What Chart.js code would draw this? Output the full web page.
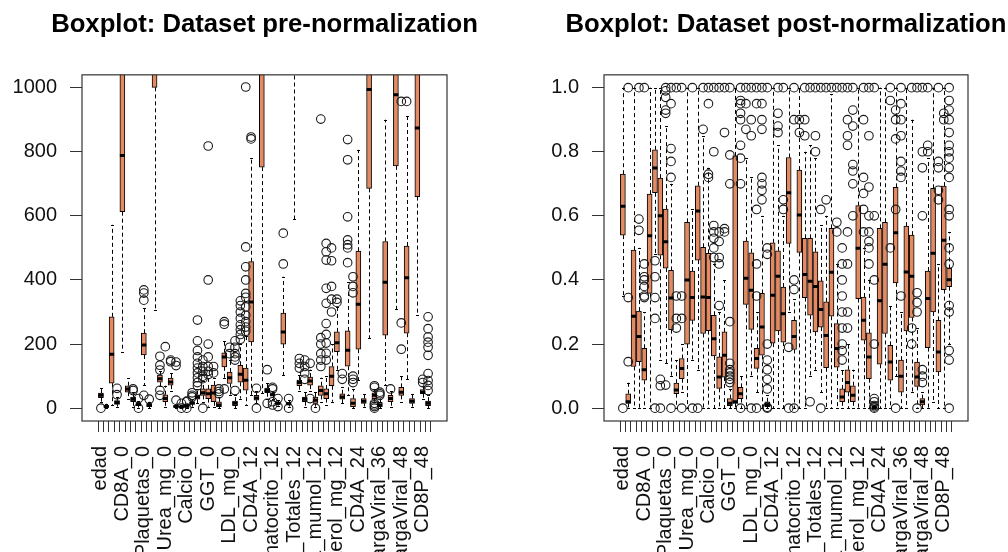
<!DOCTYPE html>
<html>
<head>
<meta charset="utf-8">
<script src="https://cdn.jsdelivr.net/npm/chart.js@4.4.1/dist/chart.umd.min.js"></script>
<style>
  html, body { margin: 0; padding: 0; background: #fff; overflow: hidden; }
  #wrap { position: relative; width: 1008px; height: 552px; }
  canvas { position: absolute; top: 0; }
  #pre { left: 0; }
  #post { left: 504px; }
</style>
</head>
<body>
<div id="wrap">
  <canvas id="pre" width="504" height="552"></canvas>
  <canvas id="post" width="504" height="552"></canvas>
</div>
<script>
// variable names (only every 4th one fits on the axis)
const varNames = [
  'edad', 'peso', 'CD4A_0', 'CD4P_0', 'CD8A_0', 'CD8P_0', 'Cociente_0', 'Hemoglobina_0',
  'Plaquetas_0', 'Leucocitos_0', 'Linfocitos_Totales_0', 'Glucosa_mg_0', 'Urea_mg_0',
  'Creatinina_mumol_0', 'Sodio_0', 'Potasio_0', 'Calcio_0', 'AST_0', 'ALT_0', 'FA_0',
  'GGT_0', 'Bilirrubina_0', 'Colesterol_mg_0', 'Trigliceridos_mg_0', 'LDL_mg_0', 'HDL_mg_0',
  'Albumina_0', 'CargaViral_0', 'CD4A_12', 'CD4P_12', 'CD8A_12', 'CD8P_12', 'Hematocrito_12',
  'Hemoglobina_12', 'Plaquetas_12', 'Leucocitos_12', 'Linfocitos_Totales_12', 'Glucosa_mg_12',
  'Urea_mg_12', 'Acido_urico_12', 'Creatinina_mumol_12', 'AST_12', 'ALT_12', 'GGT_12',
  'Colesterol_mg_12', 'HDL_mg_12', 'Trigliceridos_mg_12', 'CargaViral_12', 'CD4A_24', 'CD4P_24',
  'CD8A_24', 'CD8P_24', 'CargaViral_36', 'CD4A_36', 'CD4P_36', 'CD8A_36', 'CargaViral_48',
  'CD4A_48', 'CD4P_48', 'CD8A_48', 'CD8P_48', 'Cociente_48'
];

// pre-normalization boxplot stats
const preLow = [20,1,10,5,176,30,5,2,72,0, 306,68,5,55,0,0,0,5,15,20, 5,5,0,95,40,0,30,10,40,15,
  47,30,30,8,103,5,590,55,5,55, 5,20,10,20,120,15,40,0,87,5, 219,20,0,72,5,308,20,90,5,290, 30,0];
const preQ1 = [33,3,78,12,613,50,20,8,166,5, 1001,81,20,72,3,2,3,12,28,40, 30,20,5,129,77,8,81,56,207,25,
  752,48,38,12,200,10,1300,70,20,72, 15,40,30,70,176,28,131,5,184,15, 686,30,5,228,20,756,40,234,15,660, 45,8];
const preMedian = [40,5,168,18,788,60,28,12,197,10, 1300,92,30,82,5,4,6,16,35,48, 45,47,10,160,95,15,106,87,331,32,
  1100,55,42,15,238,14,1600,80,28,85, 25,55,45,100,204,35,181,15,324,22, 994,40,10,393,30,978,50,407,22,874, 50,15];
const preQ3 = [47,8,285,24,1150,70,35,16,234,14, 1600,103,42,94,8,6,9,20,42,60, 60,72,20,173,113,22,134,125,457,40,
  1400,63,45,18,297,18,1900,88,35,97, 35,70,60,130,238,45,241,30,490,30, 1300,48,18,520,40,1300,65,506,30,1200, 58,22];
const preHigh = [62,14,572,35,2000,94,50,22,312,20, 2500,115,70,110,14,10,14,28,60,85, 95,94,35,210,150,40,200,225,781,55,
  2500,80,52,24,410,25,2500,105,50,120, 50,95,100,200,317,65,394,60,806,45, 2000,60,30,900,55,2000,100,912,45,2000, 70,40];
const preOutliers = [
  [0], [], [], [42,62], [], [], [55,60], [0,30], [337,359,369,40], [28],
  [], [119,134,162,56,40], [192], [145,150], [133,144,25], [0,15], [0,20,22], [35,40,48],
  [275,210,180,160,140,125,110,95,80,70], [150,130,115,100,92,0],
  [818,400,200,160,130,115,105], [110,130], [45,52,60], [262,270,60], [170,190],
  [55,150,160,170,190,210], [215,230,245,260,280,300,320,335],
  [1002,503,441,400,358,346,316,290,270,253,240], [840,846], [0,62],
  [], [120,15], [60,65,20,10], [5,30], [450,546], [0,30], [], [125,140,155], [90,110,130,150], [140,30],
  [0], [902,130,150,170,200,220], [514,488,462,374,327,264,230,203,171,150], [300,340,380,460,500],
  [330,340], [108,90], [838,775,597,525,510,500,454], [80,90,100,360,380,410], [], [],
  [], [0,5,10,15,65,70], [40,45,50], [], [60], [], [957,266,184], [957], [], [],
  [80,90], [285,248,222,206,190,165,108,86,71,55]
];

// post-normalization boxplot stats
const postLow = [0.35,0,0,0,0,0,0.48,0.15,0.14,0.1, 0,0.05,0,0.15,0.12,0,0,0,0,0, 0,0,0,0,0.1,0.05,0,0,0,0,
  0,0.3,0,0,0,0.1,0.12,0.05,0,0, 0,0,0,0,0,0,0,0,0,0, 0,0.1,0,0,0.05,0,0,0,0.02,0, 0,0.2];
const postQ1 = [0.54,0.015,0.13,0.145,0.087,0.358,0.672,0.477,0.437,0.245, 0.045,0.092,0.2,0.274,0.462,0.233,0.242,0.163,0.062,0.097,
  0.008,0.015,0.03,0.324,0.246,0.124,0.165,0.005,0.203,0.241, 0.206,0.514,0.183,0.486,0.345,0.29,0.238,0.253,0.126,0.287,
  0.128,0.02,0.05,0.02,0.342,0.212,0.092,0,0.137,0.233, 0.087,0.391,0.05,0.241,0.283,0.068,0.01,0.189,0.3,0.113, 0.37,0.379];
const postMedian = [0.63,0.02,0.287,0.224,0.12,0.538,0.749,0.6,0.519,0.344, 0.057,0.124,0.4,0.345,0.615,0.347,0.345,0.217,0.097,0.165,
  0.015,0.02,0.045,0.405,0.368,0.155,0.253,0.01,0.352,0.412, 0.295,0.672,0.224,0.603,0.417,0.396,0.38,0.308,0.227,0.424,
  0.186,0.035,0.08,0.04,0.499,0.274,0.16,0.002,0.335,0.449, 0.144,0.547,0.1,0.425,0.412,0.097,0.02,0.342,0.483,0.175, 0.524,0.401];
const postQ3 = [0.73,0.045,0.493,0.303,0.187,0.668,0.806,0.718,0.621,0.43, 0.078,0.155,0.58,0.428,0.694,0.502,0.483,0.29,0.16,0.238,
  0.03,0.787,0.065,0.521,0.485,0.187,0.358,0.02,0.516,0.491, 0.378,0.782,0.274,0.743,0.53,0.53,0.488,0.397,0.332,0.561,
  0.264,0.06,0.12,0.07,0.632,0.347,0.235,0.005,0.561,0.58, 0.196,0.689,0.15,0.568,0.54,0.144,0.03,0.428,0.686,0.274, 0.693,0.436];
const postHigh = [1,0.08,1,0.5,0.3,1,1,1,0.88,0.7, 0.15,0.2,1,0.62,1,0.85,0.75,0.45,0.3,0.4, 0.06,1,0.1,0.78,0.72,0.3,0.6,0.04,1,0.82,
  0.6,1,0.34,1,0.8,0.82,0.78,0.57,0.6,0.98, 0.45,0.12,0.2,0.12,1,0.5,0.4,0.01,1,1, 0.32,1,0.3,1,0.9,0.25,0.05,0.78,1,0.45, 1,0.55];
const postOutliers = [
  [0], [0.145,0.345,1], [], [0.555,0.59,1], [0.345,0.35,0.38,0.4,0.41,0.45,1], [], [0.46,0.41,0.345,0.28,0],
  [0.09,0.07,0], [0.92,0.93,0.97,0.99,1,0.072], [0.72,0.77,0.81,0.95,1,0],
  [0.25,0.28,0.35,1], [0.28,0.35,1,0], [], [1,0], [0], [0.87,1], [0.72,0.73,0.95,1],
  [0.47,0.5,0.53,0.55,0.57,0.8,1], [0.32,0.45,0.47,0.52,0.55,1], [0.55,0.56,0.86,1],
  [0.08,0.09,0.1,0.11,0.12,0.14,0.27,0.7,0.79,1], [], [0.7,0.78,0.82,0.9,0.92,0.95,0.96,1,0],
  [0.87,0.95,1], [0.85,0.9,1,0], [0.35,0.45,0.62,0.95,1,0], [0.65,0.68,0.7,0.72,0.87,0.9,0.95,1],
  [0,0.003,0.06,0.09,0.12,0.15,0.2,0.48,0.5,1], [], [0.86,0.88,0.92,1],
  [0.62,0.65,1], [0.19,0], [0.37,0.4,0.9,1,0], [0.86,0.9], [0.85,0.9,1], [1,0.02], [0.8,0.85,1],
  [0.62,1,0], [0.65,1], [1],
  [0.55,0.58,1], [0.15,0.18,0.2,0.25,0.3,0.35,0.4,0.45,0.5,1], [0.25,0.3,0.45,0.55,0.82,0.85,0.9,1],
  [0.6,0.7,0.74,0.76,0.88,0.93,1], [], [0.55,0.62,0.67,0.72,0.9,1], [0.45,0.5,0.52,0.55,0.6,0.69,0.85,1],
  [0,0.004,0.008,0.02,0.03,0.2,0.4,0.6,1], [], [],
  [0.5,0.96,1], [0.62,0.84,0.9,0.93,0], [0.35,0.72,0.74,0.77,0.85,0.9,0.95,1], [], [0.2,0.25,1],
  [0.3,0.33,0.36,1,0], [0.08,0.1,0.12,0.6,0.75,0.8,1], [0.8,0.82,1], [], [0.65,0.68,0.75,0.77,1],
  [0.9,0.92], [0,0.15,0.18,0.3,0.32,0.45,0.5,0.6,0.62,0.72,0.75,0.78,0.8,0.82,0.86,0.9,0.93,0.96,1]
];

const FONT = "Arial, 'Liberation Sans', sans-serif";
const BOX_FILL = '#E48A63';
const BOX_W = 5;

// whiskers, staples, medians and the frame around the plot region
const boxParts = {
    id: 'boxParts',
    afterLayout(chart) {
        // centre the title over the plot region without squeezing it
        const t = chart.titleBlock;
        if (!t) return;
        const a = chart.chartArea;
        const c = (a.left + a.right) / 2;
        t.left = c - 260;
        t.right = c + 260;
        t.width = 520;
    },
    beforeDatasetsDraw(chart, args, opts) {
        const {ctx, chartArea: a, scales: {x, y}} = chart;
        ctx.save();
        ctx.beginPath();
        ctx.rect(a.left, a.top, a.width, a.height);
        ctx.clip();
        ctx.strokeStyle = '#000';
        ctx.lineWidth = 1;
        opts.q1.forEach((v, i) => {
            const px = Math.round(x.getPixelForValue(i + 1)) + 0.5;
            ctx.setLineDash([4, 3]);
            ctx.beginPath();
            ctx.moveTo(px, y.getPixelForValue(opts.q3[i]));
            ctx.lineTo(px, y.getPixelForValue(opts.high[i]));
            ctx.moveTo(px, y.getPixelForValue(v));
            ctx.lineTo(px, y.getPixelForValue(opts.low[i]));
            ctx.stroke();
            ctx.setLineDash([]);
            ctx.beginPath();
            [opts.high[i], opts.low[i]].forEach(w => {
                const py = Math.round(y.getPixelForValue(w)) + 0.5;
                ctx.moveTo(px - 1.5, py);
                ctx.lineTo(px + 1.5, py);
            });
            ctx.stroke();
        });
        ctx.restore();
    },
    afterDatasetsDraw(chart, args, opts) {
        const {ctx, chartArea: a, scales: {x, y}} = chart;
        ctx.save();
        ctx.beginPath();
        ctx.rect(a.left, a.top, a.width, a.height);
        ctx.clip();
        ctx.strokeStyle = '#000';
        ctx.lineWidth = 3;
        opts.median.forEach((m, i) => {
            const px = x.getPixelForValue(i + 1);
            const py = y.getPixelForValue(m);
            ctx.beginPath();
            ctx.moveTo(px - BOX_W / 2, py);
            ctx.lineTo(px + BOX_W / 2, py);
            ctx.stroke();
        });
        ctx.restore();
    },
    afterDraw(chart) {
        const {ctx, chartArea: a} = chart;
        ctx.save();
        ctx.strokeStyle = '#333';
        ctx.lineWidth = 1.2;
        ctx.strokeRect(a.left, a.top, a.width, a.height);
        ctx.restore();
    }
};

function buildBoxplot(canvasId, title, low, q1, median, q3, high, outliers, yMin, yMax, yTicks, yFormat, yWidth, padRight) {
    const boxes = q1.map((v, i) => ({x: i + 1, y: [v, q3[i]]}));
    const points = [];
    outliers.forEach((list, i) => list.forEach(v => points.push({x: i + 1, y: v})));
    const n = varNames.length;
    const ext = 0.04 * n;

    return new Chart(document.getElementById(canvasId), {
        type: 'bar',
        data: {
            datasets: [
                {
                    type: 'bar',
                    data: boxes,
                    backgroundColor: BOX_FILL,
                    borderColor: '#000',
                    borderWidth: 1,
                    borderSkipped: false,
                    barThickness: BOX_W,
                    order: 2
                },
                {
                    type: 'scatter',
                    data: points,
                    pointStyle: 'circle',
                    pointRadius: 4.3,
                    pointBorderWidth: 1.1,
                    pointBorderColor: '#1a1a1a',
                    pointBackgroundColor: 'rgba(0,0,0,0)',
                    order: 1
                }
            ]
        },
        options: {
            responsive: false,
            animation: false,
            devicePixelRatio: 1,
            events: [],
            layout: {padding: {left: 0, right: padRight, top: 0, bottom: 0}},
            scales: {
                x: {
                    type: 'linear',
                    min: 0.5 - ext,
                    max: n + 0.5 + ext,
                    afterBuildTicks: scale => {
                        scale.ticks = varNames.map((_, i) => ({value: i + 1}));
                    },
                    afterFit: scale => { scale.height = 131; },
                    border: {display: false},
                    grid: {drawOnChartArea: false, drawTicks: true, tickLength: 11, color: '#333'},
                    ticks: {
                        autoSkip: false,
                        minRotation: 90,
                        maxRotation: 90,
                        padding: 14,
                        color: '#111',
                        font: {family: FONT, size: 20},
                        callback: (value, index) => index % 4 === 0 ? varNames[index] : ''
                    }
                },
                y: {
                    type: 'linear',
                    min: yMin,
                    max: yMax,
                    afterBuildTicks: scale => {
                        scale.ticks = yTicks.map(v => ({value: v}));
                    },
                    afterFit: scale => { scale.width = yWidth; },
                    border: {display: false},
                    grid: {drawOnChartArea: false, drawTicks: true, tickLength: 12, color: '#333'},
                    ticks: {
                        padding: 13,
                        color: '#111',
                        font: {family: FONT, size: 20},
                        callback: v => yFormat(v)
                    }
                }
            },
            plugins: {
                legend: {display: false},
                tooltip: {enabled: false},
                title: {
                    display: true,
                    text: title,
                    fullSize: false,
                    color: '#000',
                    font: {family: FONT, size: 25.7, weight: 'bold'},
                    padding: {top: 9, bottom: 35}
                },
                boxParts: {low, q1, median, q3, high}
            }
        },
        plugins: [boxParts]
    });
}

buildBoxplot('pre', 'Boxplot: Dataset pre-normalization',
    preLow, preQ1, preMedian, preQ3, preHigh, preOutliers,
    -40, 1040, [0, 200, 400, 600, 800, 1000], v => String(v), 82, 57);

buildBoxplot('post', 'Boxplot: Dataset post-normalization',
    postLow, postQ1, postMedian, postQ3, postHigh, postOutliers,
    -0.04, 1.04, [0, 0.2, 0.4, 0.6, 0.8, 1.0], v => v.toFixed(1), 100, 40);
</script>
</body>
</html>
